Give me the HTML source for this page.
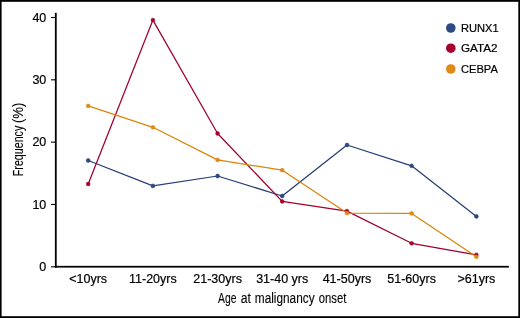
<!DOCTYPE html>
<html><head><meta charset="utf-8"><title>Age at malignancy onset</title>
<style>
html,body{margin:0;padding:0;background:#fff;}
body{width:520px;height:318px;overflow:hidden;}
svg{display:block;}
text{font-family:"Liberation Sans",sans-serif;fill:#000;stroke:#000;stroke-width:0.2px;}
.t{font-size:12.5px;}
.l{font-size:11px;}
.a{font-size:14px;stroke-width:0.1px;}
.f{font-size:14px;stroke-width:0.1px;}
</style></head><body>
<svg width="520" height="318" viewBox="0 0 520 318">
<rect x="0" y="0" width="520" height="318" fill="#fff"/>
<rect x="0" y="0" width="520" height="1.8" fill="#000"/>
<rect x="0" y="316.2" width="520" height="1.8" fill="#000"/>
<rect x="0" y="0" width="1.6" height="318" fill="#000"/>
<rect x="518.3" y="0" width="1.7" height="318" fill="#000"/>
<rect x="54.9" y="12.8" width="1.8" height="254.8" fill="#000"/>
<rect x="54.9" y="265.85" width="454" height="1.75" fill="#000"/>
<rect x="51" y="266.25" width="4.5" height="1.1" fill="#000"/>
<text x="46.3" y="271.00" text-anchor="end" class="t">0</text>
<rect x="51" y="203.93" width="4.5" height="1.1" fill="#000"/>
<text x="46.3" y="208.68" text-anchor="end" class="t">10</text>
<rect x="51" y="141.60" width="4.5" height="1.1" fill="#000"/>
<text x="46.3" y="146.35" text-anchor="end" class="t">20</text>
<rect x="51" y="79.27" width="4.5" height="1.1" fill="#000"/>
<text x="46.3" y="84.02" text-anchor="end" class="t">30</text>
<rect x="51" y="16.95" width="4.5" height="1.1" fill="#000"/>
<text x="46.3" y="21.70" text-anchor="end" class="t">40</text>
<text x="88.2" y="282.8" text-anchor="middle" class="t">&lt;10yrs</text>
<text x="152.9" y="282.8" text-anchor="middle" class="t">11-20yrs</text>
<text x="217.6" y="282.8" text-anchor="middle" class="t">21-30yrs</text>
<text x="282.2" y="282.8" text-anchor="middle" class="t">31-40 yrs</text>
<text x="347.0" y="282.8" text-anchor="middle" class="t">41-50yrs</text>
<text x="411.6" y="282.8" text-anchor="middle" class="t">51-60yrs</text>
<text x="476.4" y="282.8" text-anchor="middle" class="t">&gt;61yrs</text>
<polyline points="88.2,160.5 152.9,185.9 217.6,176.0 282.2,196.0 347.0,145.0 411.6,165.8 476.4,216.4" fill="none" stroke="#253d75" stroke-width="1.25" stroke-linejoin="round"/>
<circle cx="88.2" cy="160.5" r="1.9" fill="#2e4a82" stroke="#253d75" stroke-width="0.6"/>
<circle cx="152.9" cy="185.9" r="1.9" fill="#2e4a82" stroke="#253d75" stroke-width="0.6"/>
<circle cx="217.6" cy="176.0" r="1.9" fill="#2e4a82" stroke="#253d75" stroke-width="0.6"/>
<circle cx="282.2" cy="196.0" r="1.9" fill="#2e4a82" stroke="#253d75" stroke-width="0.6"/>
<circle cx="347.0" cy="145.0" r="1.9" fill="#2e4a82" stroke="#253d75" stroke-width="0.6"/>
<circle cx="411.6" cy="165.8" r="1.9" fill="#2e4a82" stroke="#253d75" stroke-width="0.6"/>
<circle cx="476.4" cy="216.4" r="1.9" fill="#2e4a82" stroke="#253d75" stroke-width="0.6"/>

<polyline points="88.2,184.0 152.9,20.1 217.6,133.5 282.2,201.4 347.0,211.1 411.6,243.3 476.4,254.8" fill="none" stroke="#a1002d" stroke-width="1.25" stroke-linejoin="round"/>
<circle cx="88.2" cy="184.0" r="1.9" fill="#a6002f" stroke="#a1002d" stroke-width="0.6"/>
<circle cx="152.9" cy="20.1" r="1.9" fill="#a6002f" stroke="#a1002d" stroke-width="0.6"/>
<circle cx="217.6" cy="133.5" r="1.9" fill="#a6002f" stroke="#a1002d" stroke-width="0.6"/>
<circle cx="282.2" cy="201.4" r="1.9" fill="#a6002f" stroke="#a1002d" stroke-width="0.6"/>
<circle cx="347.0" cy="211.1" r="1.9" fill="#a6002f" stroke="#a1002d" stroke-width="0.6"/>
<circle cx="411.6" cy="243.3" r="1.9" fill="#a6002f" stroke="#a1002d" stroke-width="0.6"/>
<circle cx="476.4" cy="254.8" r="1.9" fill="#a6002f" stroke="#a1002d" stroke-width="0.6"/>

<polyline points="88.2,105.9 152.9,127.3 217.6,159.9 282.2,170.2 347.0,213.1 411.6,213.4 476.4,256.8" fill="none" stroke="#da840c" stroke-width="1.25" stroke-linejoin="round"/>
<circle cx="88.2" cy="105.9" r="1.9" fill="#e08b18" stroke="#da840c" stroke-width="0.6"/>
<circle cx="152.9" cy="127.3" r="1.9" fill="#e08b18" stroke="#da840c" stroke-width="0.6"/>
<circle cx="217.6" cy="159.9" r="1.9" fill="#e08b18" stroke="#da840c" stroke-width="0.6"/>
<circle cx="282.2" cy="170.2" r="1.9" fill="#e08b18" stroke="#da840c" stroke-width="0.6"/>
<circle cx="347.0" cy="213.1" r="1.9" fill="#e08b18" stroke="#da840c" stroke-width="0.6"/>
<circle cx="411.6" cy="213.4" r="1.9" fill="#e08b18" stroke="#da840c" stroke-width="0.6"/>
<circle cx="476.4" cy="256.8" r="1.9" fill="#e08b18" stroke="#da840c" stroke-width="0.6"/>

<circle cx="450.8" cy="28.0" r="4.8" fill="#2e4a82"/>
<text x="461.0" y="31.8" class="l" textLength="37.6" lengthAdjust="spacingAndGlyphs">RUNX1</text>
<circle cx="450.8" cy="48.2" r="4.8" fill="#a6002f"/>
<text x="461.0" y="52.0" class="l" textLength="36.6" lengthAdjust="spacingAndGlyphs">GATA2</text>
<circle cx="450.8" cy="69.0" r="4.8" fill="#e08b18"/>
<text x="461.0" y="72.8" class="l" textLength="36.8" lengthAdjust="spacingAndGlyphs">CEBPA</text>
<text class="a" y="302.8"><tspan x="218.1" textLength="18.4" lengthAdjust="spacingAndGlyphs">Age</tspan> <tspan x="240.8" textLength="10.2" lengthAdjust="spacingAndGlyphs">at</tspan> <tspan x="254.8" textLength="59.8" lengthAdjust="spacingAndGlyphs">malignancy</tspan> <tspan x="318.7" textLength="27.6" lengthAdjust="spacingAndGlyphs">onset</tspan></text>
<text class="f" transform="translate(22.9,175.4) rotate(-90)"><tspan x="-0.8" textLength="50.5" lengthAdjust="spacingAndGlyphs">Frequency</tspan> <tspan x="52.4" textLength="20.4" lengthAdjust="spacingAndGlyphs">(%)</tspan></text>
</svg>
</body></html>
